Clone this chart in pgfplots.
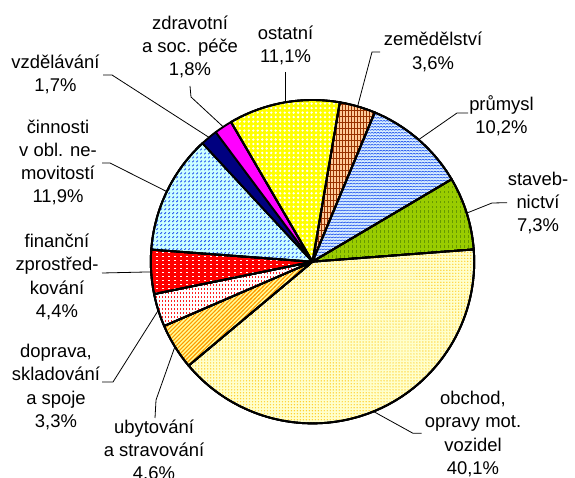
\documentclass[border=0pt]{standalone}
\usepackage{fontspec}
\setmainfont{Liberation Sans}
\usepackage{pgfplots}
\pgfplotsset{compat=1.18}
\usepackage{pgfplotstable}
\usetikzlibrary{patterns}

% colours
\definecolor{zembg}{HTML}{FFCC99}
\definecolor{zemfg}{HTML}{993300}
\definecolor{prubg}{HTML}{D6ECFF}
\definecolor{prufg}{HTML}{2255EE}
\definecolor{stabg}{HTML}{99CC00}
\definecolor{stafg}{HTML}{669900}
\definecolor{obcbg}{HTML}{FFFFCC}
\definecolor{obcfg}{HTML}{FFCC22}
\definecolor{ubybg}{HTML}{FFFF99}
\definecolor{ubyfg}{HTML}{FF9900}
\definecolor{dopfg}{HTML}{FF2020}
\definecolor{finbg}{HTML}{FF0000}
\definecolor{cinbg}{HTML}{CCFFFF}
\definecolor{cinfg}{HTML}{2255EE}
\definecolor{vzdbg}{HTML}{000080}
\definecolor{zdrbg}{HTML}{FF00FF}
\definecolor{ostbg}{HTML}{FFFF00}

% fill patterns (one per slice)
\pgfdeclarepatternformonly{zgrid}{\pgfqpoint{-1pt}{-1pt}}{\pgfqpoint{4pt}{7pt}}{\pgfqpoint{3pt}{6pt}}{%
  \pgfsetlinewidth{0.8pt}%
  \pgfpathmoveto{\pgfqpoint{1.5pt}{-0.1pt}}\pgfpathlineto{\pgfqpoint{1.5pt}{6.1pt}}%
  \pgfpathmoveto{\pgfqpoint{-0.1pt}{3pt}}\pgfpathlineto{\pgfqpoint{3.1pt}{3pt}}%
  \pgfusepath{stroke}}
\pgfdeclarepatternformonly{wave}{\pgfqpoint{-1pt}{-1pt}}{\pgfqpoint{7pt}{4pt}}{\pgfqpoint{6pt}{3pt}}{%
  \pgfsetlinewidth{0.6pt}%
  \pgfpathmoveto{\pgfqpoint{0pt}{1pt}}\pgfpathlineto{\pgfqpoint{1.5pt}{2pt}}%
  \pgfpathlineto{\pgfqpoint{3pt}{1pt}}\pgfpathlineto{\pgfqpoint{4.5pt}{2pt}}%
  \pgfpathlineto{\pgfqpoint{6pt}{1pt}}%
  \pgfusepath{stroke}}
\pgfdeclarepatternformonly{vdashg}{\pgfqpoint{-1pt}{-1pt}}{\pgfqpoint{5pt}{6pt}}{\pgfqpoint{4pt}{5pt}}{%
  \pgfsetlinewidth{0.8pt}%
  \pgfpathmoveto{\pgfqpoint{2pt}{1pt}}\pgfpathlineto{\pgfqpoint{2pt}{3.5pt}}%
  \pgfusepath{stroke}}
\pgfdeclarepatternformonly{vdashr}{\pgfqpoint{-1pt}{-1pt}}{\pgfqpoint{4pt}{5pt}}{\pgfqpoint{3pt}{4pt}}{%
  \pgfsetlinewidth{0.9pt}%
  \pgfpathmoveto{\pgfqpoint{1.5pt}{0.5pt}}\pgfpathlineto{\pgfqpoint{1.5pt}{3pt}}%
  \pgfusepath{stroke}}
\pgfdeclarepatternformonly{hdash}{\pgfqpoint{-1pt}{-1pt}}{\pgfqpoint{7pt}{5pt}}{\pgfqpoint{6pt}{4pt}}{%
  \pgfsetlinewidth{0.7pt}%
  \pgfpathmoveto{\pgfqpoint{1pt}{2pt}}\pgfpathlineto{\pgfqpoint{3pt}{2pt}}%
  \pgfusepath{stroke}}
\pgfdeclarepatternformonly{ddash}{\pgfqpoint{-1pt}{-1pt}}{\pgfqpoint{5pt}{5pt}}{\pgfqpoint{4pt}{4pt}}{%
  \pgfsetlinewidth{0.9pt}%
  \pgfpathmoveto{\pgfqpoint{1pt}{1pt}}\pgfpathlineto{\pgfqpoint{2.6pt}{2.6pt}}%
  \pgfusepath{stroke}}
\pgfdeclarepatternformonly{stripes}{\pgfqpoint{-1pt}{-1pt}}{\pgfqpoint{5pt}{5pt}}{\pgfqpoint{4pt}{4pt}}{%
  \pgfsetlinewidth{1.1pt}%
  \pgfpathmoveto{\pgfqpoint{-0.2pt}{-0.2pt}}\pgfpathlineto{\pgfqpoint{4.2pt}{4.2pt}}%
  \pgfusepath{stroke}}
\pgfdeclarepatternformonly{fdots}{\pgfqpoint{-1pt}{-1pt}}{\pgfqpoint{4pt}{4pt}}{\pgfqpoint{3pt}{3pt}}{%
  \pgfpathcircle{\pgfqpoint{1.5pt}{1.5pt}}{0.7pt}%
  \pgfusepath{fill}}
\pgfdeclarepatternformonly{bdots}{\pgfqpoint{-1pt}{-1pt}}{\pgfqpoint{5.5pt}{5.5pt}}{\pgfqpoint{4.5pt}{4.5pt}}{%
  \pgfpathcircle{\pgfqpoint{2.25pt}{2.25pt}}{1.3pt}%
  \pgfusepath{fill}}

\tikzset{
  slice/.style={draw=black, line width=1.9bp, line join=round},
  szem/.style={slice, preaction={fill=zembg}, preaction={pattern=zgrid, pattern color=zemfg}},
  sprum/.style={slice, preaction={fill=prubg}, preaction={pattern=wave, pattern color=prufg}},
  sstav/.style={slice, preaction={fill=stabg}, preaction={pattern=vdashg, pattern color=stafg}},
  sobch/.style={slice, preaction={fill=obcbg}, preaction={pattern=fdots, pattern color=obcfg}},
  suby/.style={slice, preaction={fill=ubybg}, preaction={pattern=stripes, pattern color=ubyfg}},
  sdop/.style={slice, preaction={fill=white}, preaction={pattern=vdashr, pattern color=dopfg}},
  sfin/.style={slice, preaction={fill=finbg}, preaction={pattern=hdash, pattern color=white}},
  scin/.style={slice, preaction={fill=cinbg}, preaction={pattern=ddash, pattern color=cinfg}},
  svzd/.style={slice, fill=vzdbg},
  szdr/.style={slice, fill=zdrbg},
  sost/.style={slice, preaction={fill=ostbg}, preaction={pattern=bdots, pattern color=white}},
  lbl/.style={align=center, inner sep=0pt, font=\fontsize{18.5}{23.3}\selectfont},
  lead/.style={draw=black, line width=0.8bp},
}

% shares in percent, clockwise from the top
\pgfplotstableread{
pct style
3.6 szem
10.2 sprum
7.3 sstav
40.1 sobch
4.6 suby
3.3 sdop
4.4 sfin
11.9 scin
1.7 svzd
1.8 szdr
11.1 sost
}\piedata

\begin{document}
\begin{tikzpicture}
\begin{axis}[
    width=575bp, height=478bp,
    scale only axis,
    xmin=0, xmax=575, ymin=0, ymax=478,
    hide axis,
    clip=false,
]
\gdef\cum{80.3}
\pgfplotsforeachungrouped \i in {0,...,10} {%
  \pgfplotstablegetelem{\i}{pct}\of\piedata
  \let\pct\pgfplotsretval
  \pgfplotstablegetelem{\i}{style}\of\piedata
  \let\st\pgfplotsretval
  \pgfmathsetmacro\sa{\cum}%
  \pgfmathsetmacro\sb{\cum-3.6*\pct}%
  \edef\doslice{\noexpand\addplot[\st] coordinates {(312.5,216.3)} -- ++(\sa:161.7bp) arc[start angle=\sa, end angle=\sb, radius=161.7bp] -- cycle;}%
  \doslice
  \global\let\cum\sb
}

% leader lines
\draw[lead] (axis cs:380,426) -- (axis cs:372,426) -- (axis cs:357.6,371.6);
\draw[lead] (axis cs:468,365) -- (axis cs:457,365) -- (axis cs:418.6,338.3);
\draw[lead] (axis cs:507,275.3) -- (axis cs:492,275) -- (axis cs:466.7,264.9);
\draw[lead] (axis cs:421.7,44.7) -- (axis cs:413,44.7) -- (axis cs:373.5,66.5);
\draw[lead] (axis cs:174.9,131.3) -- (axis cs:156,78) -- (axis cs:155,60);
\draw[lead] (axis cs:102,96) -- (axis cs:113,96) -- (axis cs:158.3,167.7);
\draw[lead] (axis cs:102,205) -- (axis cs:151.1,206.1);
\draw[lead] (axis cs:102,315) -- (axis cs:110,315) -- (axis cs:166.8,286.4);
\draw[lead] (axis cs:103,403) -- (axis cs:112,403) -- (axis cs:209,340.6);
\draw[lead] (axis cs:190,392) -- (axis cs:191,381) -- (axis cs:223.3,351.1);
\draw[lead] (axis cs:285,406) -- (axis cs:285,375.6);

% labels
\node[lbl] at (axis cs:190,431) {zdravotní\\a soc. péče\\1,8\%};
\node[lbl] at (axis cs:285.5,432.5) {ostatní\\11,1\%};
\node[lbl] at (axis cs:433,426) {zemědělství\\3,6\%};
\node[lbl] at (axis cs:501.5,362.5) {průmysl\\10,2\%};
\node[lbl] at (axis cs:538,275) {staveb-\\nictví\\7,3\%};
\node[lbl] at (axis cs:473,44) {obchod,\\opravy mot.\\vozidel\\40,1\%};
\node[lbl] at (axis cs:154,27) {ubytování\\a stravování\\4,6\%};
\node[lbl] at (axis cs:56,91) {doprava,\\skladování\\a spoje\\3,3\%};
\node[lbl] at (axis cs:57,201) {finanční\\zprostřed-\\kování\\4,4\%};
\node[lbl] at (axis cs:58,315.5) {činnosti\\v obl. ne-\\movitostí\\11,9\%};
\node[lbl] at (axis cs:55.5,403.5) {vzdělávání\\1,7\%};
\end{axis}
\pgfresetboundingbox
\path[use as bounding box] (current axis.south west) rectangle (current axis.north east);
\end{tikzpicture}
\end{document}
